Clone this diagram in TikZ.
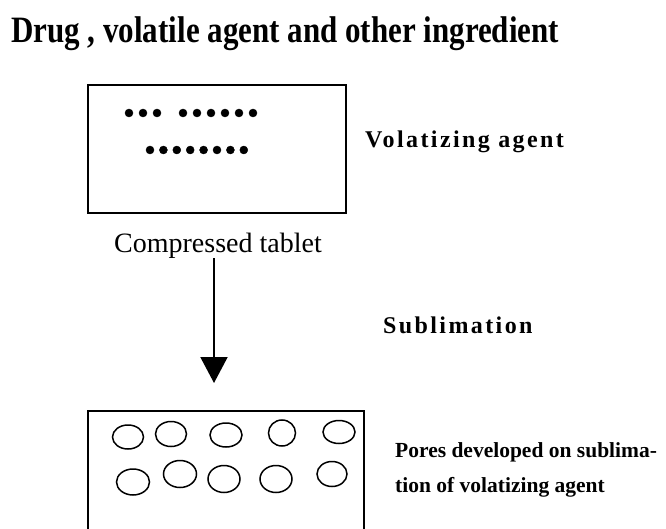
\documentclass[tikz,border=0pt]{standalone}
\usepackage{fontspec}
\setmainfont{Liberation Serif}
\usetikzlibrary{shapes.geometric,arrows.meta}

\begin{document}
\begin{tikzpicture}[x=1pt,y=-1pt,
	lbl/.style={inner sep=0,anchor=base west},
	spc/.style={lbl,font=\bfseries\fontsize{24}{28}\selectfont\addfontfeature{LetterSpace=10}},
	dot/.style={draw,circle,fill=black,inner sep=0,minimum size=8},
	pore/.style={draw,ellipse,line width=1.5,inner sep=0}]
	\useasboundingbox (0,0) rectangle (666,529);
	\node [lbl, font=\bfseries\fontsize{31}{36}\selectfont] (ttl) at (11,43) {\scalebox{1}[1.2]{Drug , volatile agent and other ingredient}};
	\node [draw, line width=2, inner sep=0, minimum width=258, minimum height=128] (tab) at (217,149) {};
	\foreach \i in {0,1,2} \node [dot] (a\i) at (129+14*\i,113) {};
	\foreach \i in {0,...,5} \node [dot] (b\i) at (183+14*\i,113) {};
	\foreach \i in {0,...,7} \node [dot] (c\i) at (150+13.4*\i,150) {};
	\node [spc] (vol) at (365,148) {Volatizing agent};
	\node [lbl, anchor=base, font=\fontsize{28}{32}\selectfont] (cmp) at (218,252) {Compressed tablet};
	\coordinate (s) at (214,258);
	\coordinate (e) at (214,383);
	\draw [line width=2, -{Triangle[width=27,length=26]}] (s)--(e);
	\node [spc] (sub) at (383,333) {Sublimation};
	\draw [line width=2] (88,535) |- (364,411) -- (364,535);
	\node [pore, minimum width=31, minimum height=24] (p1) at (128,437) {};
	\node [pore, minimum width=31, minimum height=25] (p2) at (171,434) {};
	\node [pore, minimum width=32, minimum height=24] (p3) at (226,435) {};
	\node [pore, minimum width=27, minimum height=26] (p4) at (282,433) {};
	\node [pore, minimum width=32, minimum height=23] (p5) at (339,432) {};
	\node [pore, minimum width=33, minimum height=26] (q1) at (133,482) {};
	\node [pore, minimum width=33, minimum height=27] (q2) at (180,474) {};
	\node [pore, minimum width=32, minimum height=27] (q3) at (224,479) {};
	\node [pore, minimum width=32, minimum height=27] (q4) at (276,479) {};
	\node [pore, minimum width=30, minimum height=25] (q5) at (332,474) {};
	\node [lbl, font=\bfseries\fontsize{21.5}{25}\selectfont] (pr1) at (395,457) {Pores developed on sublima-};
	\node [lbl, font=\bfseries\fontsize{21.5}{25}\selectfont] (pr2) at (395,492) {tion of volatizing agent};
\end{tikzpicture}
\end{document}
